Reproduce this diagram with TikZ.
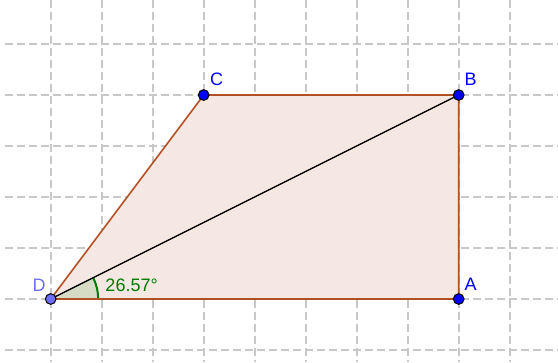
\documentclass[tikz,border=0pt]{standalone}
\usepackage{fontspec}
\setmainfont{Liberation Sans}
\usetikzlibrary{positioning}

\definecolor{gridgray}{RGB}{200,200,200}
\definecolor{edgebrown}{RGB}{176,80,36}
\definecolor{polyfill}{RGB}{245,232,227}
\definecolor{ptblue}{RGB}{0,0,255}
\definecolor{dblue}{RGB}{110,110,255}
\definecolor{anglegreen}{RGB}{0,122,0}
\definecolor{anglefill}{RGB}{214,219,198}

\tikzset{every picture/.style={line width=0.75pt}}
\tikzset{
  gridline/.style={color=gridgray, line width=1.3pt, dash pattern=on 6pt off 3pt},
  pt/.style={circle, draw=black, fill=ptblue, line width=0.75pt, inner sep=0pt, minimum size=8pt},
  ptlabel/.style={text=ptblue, font=\fontsize{13.5}{15}\selectfont, inner sep=0.75pt},
}

\begin{document}
\begin{tikzpicture}[x=0.75pt,y=0.75pt,yscale=-1,xscale=1]
    \useasboundingbox (0,0) rectangle (558,362);

    %Shape: Grid
    \foreach \gx in {50.7,101.7,...,510} {
      \draw [gridline] (\gx,0) -- (\gx,362) ;
    }
    \foreach \gy in {44,95,...,351} {
      \draw [gridline] (5,\gy) -- (558,\gy) ;
    }

    %Vertices
    \coordinate (D) at (50.7,299) ;
    \coordinate (A) at (458.7,299) ;
    \coordinate (B) at (458.7,95) ;
    \coordinate (C) at (203.7,95) ;

    %Shape: Polygon
    \fill [polyfill] (D) -- (A) -- (B) -- (C) -- cycle ;
    %Shape: Angle
    \fill [anglefill] (D) -- ++(47.5,0) arc [start angle=0, end angle=-26.57, radius=47.5] -- cycle ;
    \draw [anglegreen, line width=1.5pt] (D) ++(47.5,0) arc [start angle=0, end angle=-26.57, radius=47.5] ;
    %Straight Lines
    \draw [edgebrown, line width=1.2pt] (D) -- (A) -- (B) -- (C) -- cycle ;
    \draw [black, line width=1pt] (D) -- (B) ;

    %Points
    \node [pt, fill=dblue] (ptD) at (D) {} ;
    \node [pt] (ptA) at (A) {} ;
    \node [pt] (ptB) at (B) {} ;
    \node [pt] (ptC) at (C) {} ;

    % Text Node
    \node [ptlabel, text=dblue] (labD) at ([shift={(-11.5,-13.5)}]ptD.center) {D} ;
    % Text Node
    \node [ptlabel] (labA) at ([shift={(12,-15)}]ptA.center) {A} ;
    % Text Node
    \node [ptlabel] (labB) at ([shift={(12,-15.5)}]ptB.center) {B} ;
    % Text Node
    \node [ptlabel] (labC) at ([shift={(13,-15.5)}]ptC.center) {C} ;
    % Text Node
    \node [anchor=west, inner sep=0.75pt, text=anglegreen, font=\fontsize{13.5}{15}\selectfont] (angDAB) at (104,285.5) {26.57°} ;

\end{tikzpicture}
\end{document}
